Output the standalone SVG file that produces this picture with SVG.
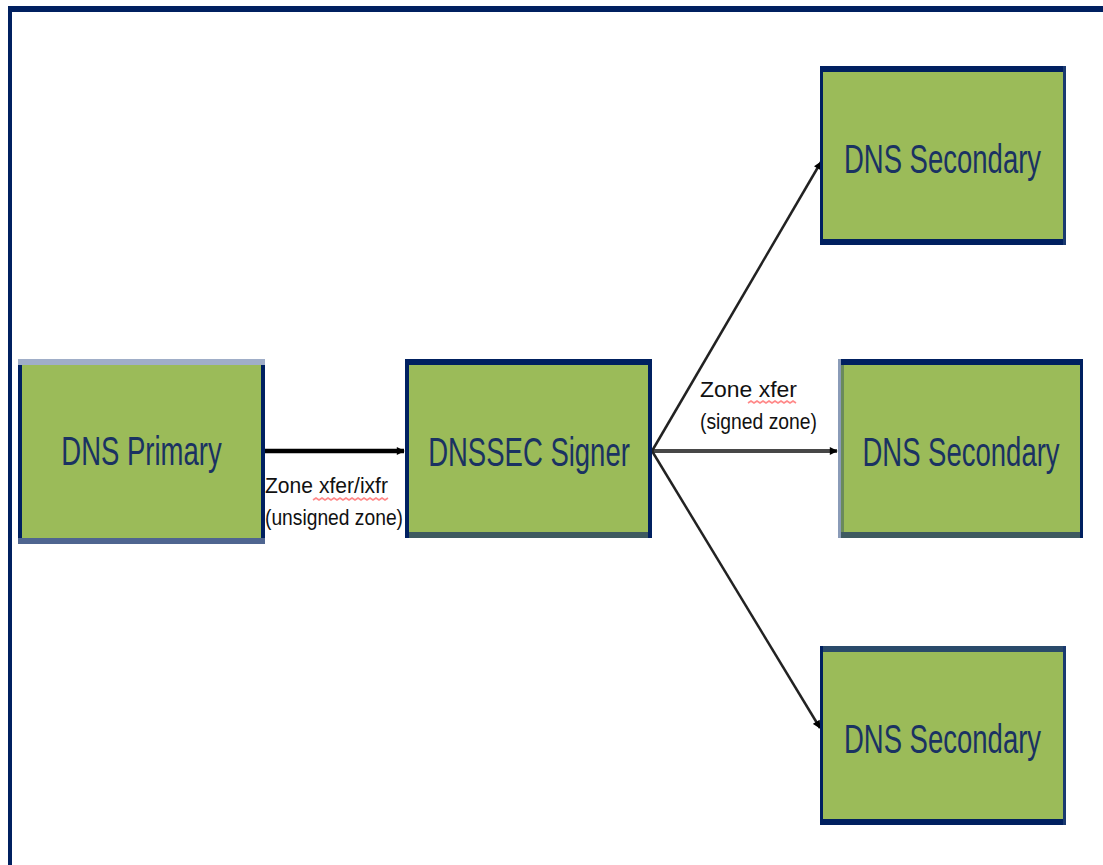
<svg xmlns="http://www.w3.org/2000/svg" width="1103" height="865" viewBox="0 0 1103 865">
<defs>
<style>
.fill{fill:#9bbb59}
.nv{fill:#002060}
.nt{font-family:"Liberation Sans",Arial,sans-serif;font-size:27.5px;fill:#1a3262;text-anchor:middle}
.lb{font-family:"Liberation Sans",Arial,sans-serif;font-size:15px;fill:#111}
.sq{fill:none;stroke:#ff6060;stroke-width:1.6;opacity:0.75}
</style>
<marker id="ah" viewBox="0 0 10 10" refX="9" refY="5" markerWidth="10" markerHeight="8" markerUnits="userSpaceOnUse" orient="auto">
<path d="M0,0 L10,5 L0,10 z" fill="#000"/>
</marker>
</defs>
<rect width="1103" height="865" fill="#fff"/>
<g id="frame">
<rect x="8" y="6" width="1095" height="6" class="nv"/>
<rect x="8" y="6" width="4" height="859" class="nv"/>
</g>
<g id="connectors">
<line x1="265" y1="451" x2="404" y2="451" stroke="#000" stroke-width="4.5" marker-end="url(#ah)"/>
<line x1="652" y1="451" x2="837" y2="451" stroke="#474747" stroke-width="4" marker-end="url(#ah)"/>
<line x1="652" y1="451" x2="821" y2="162" stroke="#222" stroke-width="2.5" marker-end="url(#ah)"/>
<line x1="652" y1="451" x2="820" y2="728" stroke="#222" stroke-width="2.5" marker-end="url(#ah)"/>
</g>
<g id="label-unsigned">
<text class="lb" transform="translate(265,493) scale(1,1.5)" textLength="123" lengthAdjust="spacingAndGlyphs">Zone xfer/ixfr</text>
<text class="lb" transform="translate(265,525) scale(1,1.5)" textLength="138" lengthAdjust="spacingAndGlyphs">(unsigned zone)</text>
<path class="sq" d="M313,500 l3,-2 l3,2 l3,-2 l3,2 l3,-2 l3,2 l3,-2 l3,2 l3,-2 l3,2 l3,-2 l3,2 l3,-2 l3,2 l3,-2 l3,2 l3,-2 l3,2 l3,-2 l3,2 l3,-2 l3,2 l3,-2 l3,2 l3,-2"/>
</g>
<g id="label-signed">
<text class="lb" transform="translate(700,397) scale(1,1.5)" textLength="97" lengthAdjust="spacingAndGlyphs">Zone xfer</text>
<text class="lb" transform="translate(700,429) scale(1,1.5)" textLength="117" lengthAdjust="spacingAndGlyphs">(signed zone)</text>
<path class="sq" d="M748,403 l3,-2 l3,2 l3,-2 l3,2 l3,-2 l3,2 l3,-2 l3,2 l3,-2 l3,2 l3,-2 l3,2 l3,-2 l3,2 l3,-2 l3,2"/>
</g>
<g id="dns-primary">
<rect x="18" y="359" width="247" height="185" class="fill"/>
<rect x="18" y="359" width="247" height="6" fill="#a0aec8"/>
<rect x="18" y="538" width="247" height="6" fill="#4f6590"/>
<rect x="18" y="365" width="4" height="173" class="nv"/>
<rect x="261" y="365" width="4" height="173" class="nv"/>
<text class="nt" transform="translate(141.5,465) scale(1,1.45)">DNS Primary</text>
</g>
<g id="dnssec-signer">
<rect x="405" y="359" width="247" height="179" class="fill"/>
<rect x="405" y="359" width="247" height="6" class="nv"/>
<rect x="405" y="532" width="247" height="6" fill="#3e5a60"/>
<rect x="405" y="359" width="4" height="179" class="nv"/>
<rect x="648" y="359" width="4" height="179" class="nv"/>
<text class="nt" transform="translate(529,466) scale(1,1.45)">DNSSEC Signer</text>
</g>
<g id="dns-secondary-1">
<rect x="820" y="66" width="246" height="179" class="fill"/>
<rect x="820" y="66" width="246" height="6" class="nv"/>
<rect x="820" y="239" width="246" height="6" class="nv"/>
<rect x="820" y="66" width="3" height="179" class="nv"/>
<rect x="1063" y="66" width="3" height="179" fill="#1a3a70"/>
<text class="nt" transform="translate(942.5,173) scale(1,1.45)">DNS Secondary</text>
</g>
<g id="dns-secondary-2">
<rect x="838" y="359" width="245" height="179" class="fill"/>
<rect x="838" y="359" width="245" height="6" class="nv"/>
<rect x="838" y="532" width="245" height="6" fill="#3e5a60"/>
<rect x="838" y="359" width="3" height="179" fill="#8a9bb8"/>
<rect x="841" y="365" width="3" height="167" fill="#6a8a5a"/>
<rect x="1080" y="359" width="3" height="179" class="nv"/>
<text class="nt" transform="translate(961,466) scale(1,1.45)">DNS Secondary</text>
</g>
<g id="dns-secondary-3">
<rect x="820" y="646" width="246" height="179" class="fill"/>
<rect x="820" y="646" width="246" height="6" fill="#2a4a6a"/>
<rect x="820" y="819" width="246" height="6" class="nv"/>
<rect x="820" y="646" width="3" height="179" class="nv"/>
<rect x="1063" y="646" width="3" height="179" fill="#1a3a70"/>
<text class="nt" transform="translate(942.5,753) scale(1,1.45)">DNS Secondary</text>
</g>
</svg>
